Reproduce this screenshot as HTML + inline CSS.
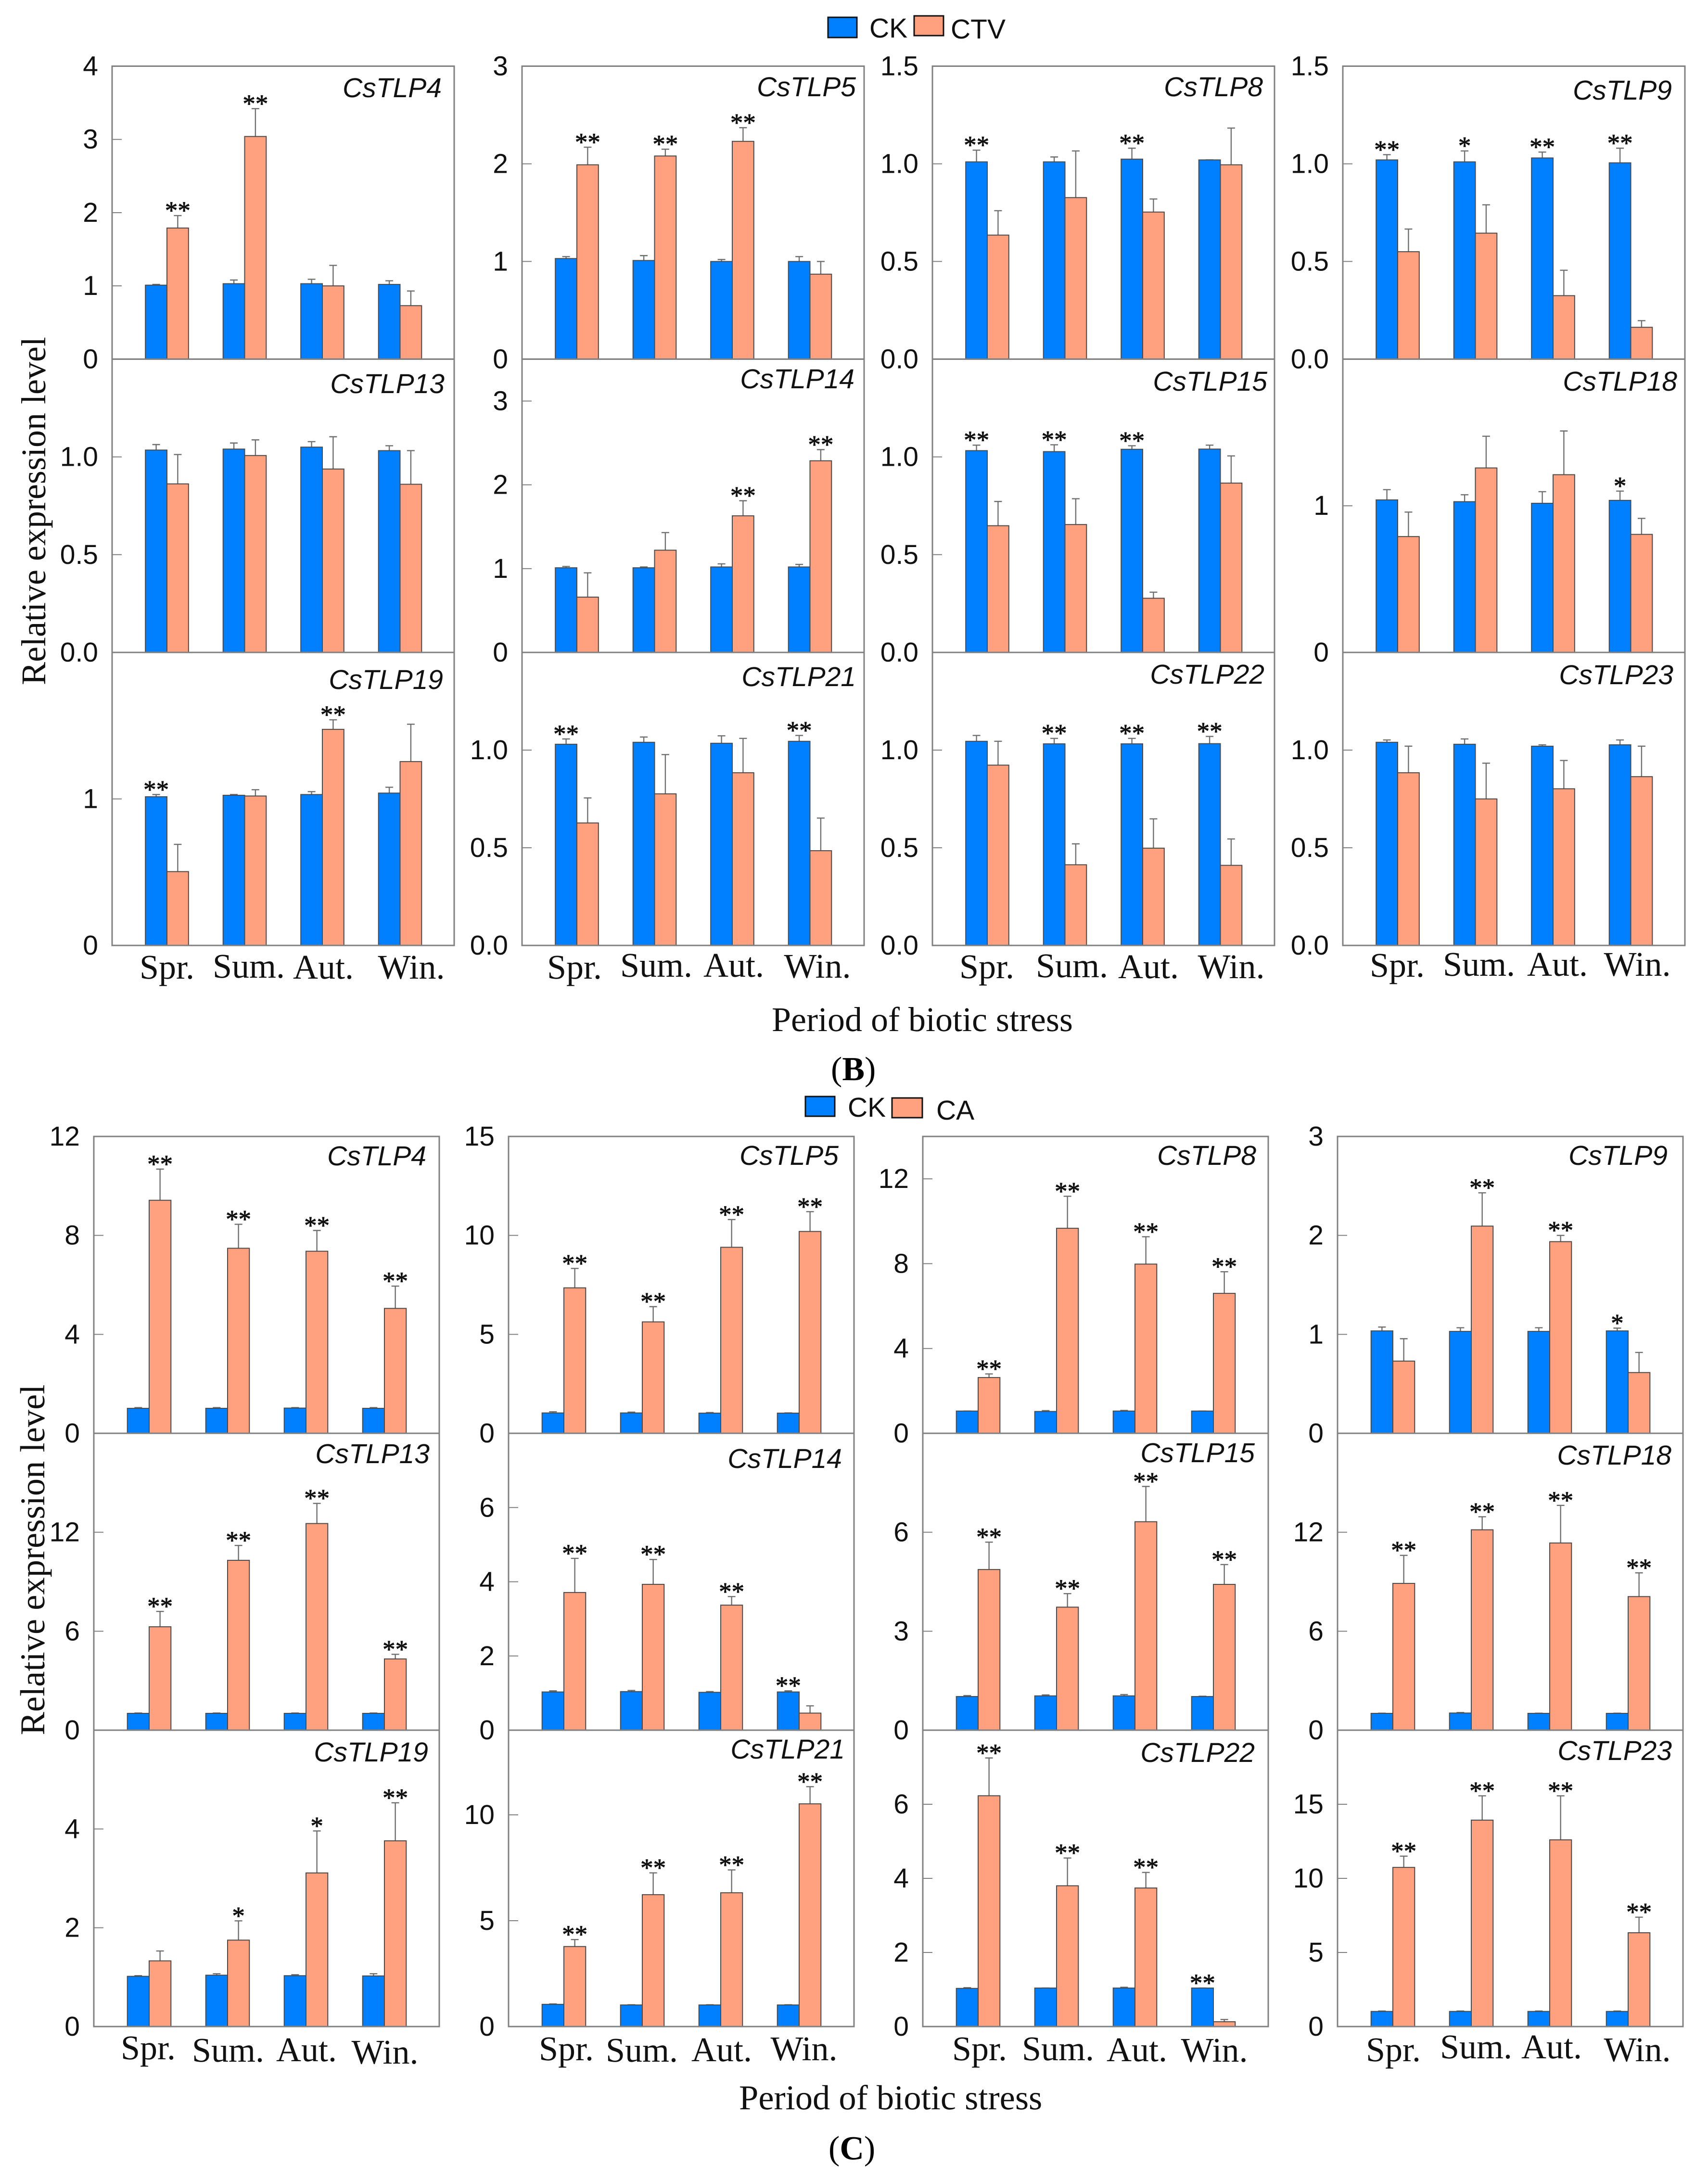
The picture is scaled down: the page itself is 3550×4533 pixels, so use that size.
<!DOCTYPE html>
<html lang="en">
<head>
<meta charset="utf-8">
<title>CsTLP relative expression under biotic stress</title>
<style>
html,body{margin:0;padding:0;background:#fff}
svg{display:block;text-rendering:geometricPrecision}
.sans{font-family:"Liberation Sans",sans-serif}
.serif{font-family:"Liberation Serif",serif}
</style>
</head>
<body>
<svg id="figure" xmlns="http://www.w3.org/2000/svg" width="3550" height="4533" viewBox="0 0 3550 4533">
  <rect x="0" y="0" width="3550" height="4533" fill="#fff"/>

  <g>
    <rect x="1721" y="36" width="60" height="42" fill="#0080ff" stroke="#111" stroke-width="3"/>
    <text class="sans" x="1807" y="78" font-size="57" fill="#111">CK</text>
    <rect x="1900" y="33" width="61" height="41" fill="#ffa07f" stroke="#111" stroke-width="3"/>
    <text class="sans" x="1976" y="80" font-size="57" fill="#111">CTV</text>
  </g>
  <g>
    <rect x="1674" y="2279" width="61" height="41" fill="#0080ff" stroke="#111" stroke-width="3"/>
    <text class="sans" x="1762" y="2321" font-size="57" fill="#111">CK</text>
    <rect x="1854" y="2282" width="63" height="41" fill="#ffa07f" stroke="#111" stroke-width="3"/>
    <text class="sans" x="1946" y="2327" font-size="57" fill="#111">CA</text>
  </g>

  <text class="serif" transform="translate(94 1062) rotate(-90)" text-anchor="middle" font-size="72" fill="#111">Relative expression level</text>
  <text class="serif" x="1604" y="2143" font-size="72" fill="#111">Period of biotic stress</text>
  <text class="serif" x="1727" y="2245" font-size="70" fill="#000">(<tspan font-weight="bold">B</tspan>)</text>

  <text class="serif" transform="translate(92 3242) rotate(-90)" text-anchor="middle" font-size="72.5" fill="#111">Relative expression level</text>
  <text class="serif" x="1536" y="4384" font-size="72.5" fill="#111">Period of biotic stress</text>
  <text class="serif" x="1722" y="4488" font-size="70" fill="#000">(<tspan font-weight="bold">C</tspan>)</text>
</svg>
<script>
/* ---------- data ---------- */
const seasons = ['Spr.', 'Sum.', 'Aut.', 'Win.'];
const genes = ['CsTLP4', 'CsTLP5', 'CsTLP8', 'CsTLP9', 'CsTLP13', 'CsTLP14', 'CsTLP15', 'CsTLP18', 'CsTLP19', 'CsTLP21', 'CsTLP22', 'CsTLP23'];

/* Figure B: CK vs CTV */
const bYMax = [4, 3, 1.5, 1.5, 1.5, 3.5, 1.5, 2, 2, 1.5, 1.5, 1.5];
const bTicks = [
  ['0', '1', '2', '3', '4'], ['0', '1', '2', '3'], ['0.0', '0.5', '1.0', '1.5'], ['0.0', '0.5', '1.0', '1.5'],
  ['0.0', '0.5', '1.0'], ['0', '1', '2', '3'], ['0.0', '0.5', '1.0'], ['0', '1'],
  ['0', '1'], ['0.0', '0.5', '1.0'], ['0.0', '0.5', '1.0'], ['0.0', '0.5', '1.0']
];
const bCk = [
  [1.01, 1.03, 1.03, 1.02], [1.03, 1.01, 1.0, 1.0], [1.01, 1.01, 1.024, 1.02], [1.02, 1.01, 1.03, 1.005],
  [1.035, 1.04, 1.05, 1.032], [1.01, 1.01, 1.02, 1.02], [1.032, 1.027, 1.039, 1.04], [1.04, 1.028, 1.017, 1.037],
  [1.015, 1.025, 1.03, 1.04], [1.03, 1.04, 1.035, 1.045], [1.045, 1.032, 1.032, 1.033], [1.04, 1.03, 1.02, 1.027]
];
const bCkErrTop = [
  [1.02, 1.08, 1.09, 1.07], [1.05, 1.06, 1.02, 1.05], [1.07, 1.035, 1.08, 1.02], [1.047, 1.066, 1.06, 1.08],
  [1.063, 1.071, 1.078, 1.057], [1.026, 1.02, 1.057, 1.05], [1.06, 1.062, 1.057, 1.06], [1.11, 1.075, 1.096, 1.10],
  [1.03, 1.03, 1.05, 1.08], [1.057, 1.067, 1.073, 1.075], [1.075, 1.06, 1.06, 1.07], [1.052, 1.057, 1.027, 1.052]
];
const bCtv = [
  [1.79, 3.04, 1.0, 0.73], [1.99, 2.08, 2.23, 0.87], [0.635, 0.827, 0.753, 0.995], [0.55, 0.645, 0.325, 0.163],
  [0.862, 1.007, 0.938, 0.86], [0.66, 1.22, 1.63, 2.287], [0.648, 0.654, 0.277, 0.866], [0.79, 1.258, 1.212, 0.805],
  [0.504, 1.02, 1.475, 1.255], [0.627, 0.776, 0.884, 0.485], [0.923, 0.413, 0.498, 0.41], [0.884, 0.75, 0.802, 0.864]
];
const bCtvErrTop = [
  [1.96, 3.42, 1.28, 0.93], [2.17, 2.15, 2.37, 1.0], [0.76, 1.066, 0.82, 1.183], [0.666, 0.79, 0.455, 0.197],
  [1.012, 1.087, 1.103, 1.032], [0.95, 1.43, 1.81, 2.42], [0.772, 0.786, 0.308, 1.005], [0.957, 1.474, 1.51, 0.914],
  [0.69, 1.063, 1.54, 1.51], [0.755, 0.977, 1.06, 0.652], [1.045, 0.52, 0.648, 0.545], [1.02, 0.933, 0.947, 1.02]
];
const bStars = [
  [2, 2, 0, 0], [2, 2, 2, 0], [2, 0, 2, 0], [2, 1, 2, 2],
  [0, 0, 0, 0], [0, 0, 2, 2], [2, 2, 2, 0], [0, 0, 0, 1],
  [2, 0, 2, 0], [2, 0, 0, 2], [0, 2, 2, 2], [0, 0, 0, 0]
];

/* Figure C: CK vs CA */
const cYMax = [12, 15, 14, 3, 18, 8, 9, 18, 6, 14, 8, 20];
const cTicks = [
  ['0', '4', '8', '12'], ['0', '5', '10', '15'], ['0', '4', '8', '12'], ['0', '1', '2', '3'],
  ['0', '6', '12'], ['0', '2', '4', '6'], ['0', '3', '6'], ['0', '6', '12'],
  ['0', '2', '4'], ['0', '5', '10'], ['0', '2', '4', '6'], ['0', '5', '10', '15']
];
const cCk = [
  [1.01, 1.01, 1.02, 1.01], [1.03, 1.03, 1.02, 1.02], [1.05, 1.03, 1.05, 1.05], [1.035, 1.03, 1.03, 1.035],
  [1.02, 1.02, 1.02, 1.02], [1.03, 1.04, 1.02, 1.03], [1.02, 1.04, 1.04, 1.02], [1.02, 1.04, 1.02, 1.02],
  [1.017, 1.04, 1.03, 1.025], [1.05, 1.02, 1.02, 1.02], [1.03, 1.04, 1.04, 1.04], [1.02, 1.02, 1.02, 1.02]
];
const cCkErrTop = [
  [1.04, 1.04, 1.04, 1.04], [1.09, 1.07, 1.05, 1.03], [1.05, 1.07, 1.08, 1.05], [1.074, 1.067, 1.067, 1.063],
  [1.04, 1.04, 1.04, 1.04], [1.06, 1.07, 1.04, 1.06], [1.05, 1.07, 1.08, 1.03], [1.03, 1.07, 1.03, 1.03],
  [1.03, 1.07, 1.05, 1.07], [1.07, 1.03, 1.03, 1.03], [1.05, 1.04, 1.06, 1.04], [1.05, 1.05, 1.05, 1.05]
];
const cCa = [
  [9.42, 7.48, 7.36, 5.05], [7.35, 5.63, 9.4, 10.2], [2.63, 9.67, 7.98, 6.6], [0.73, 2.094, 1.937, 0.614],
  [6.27, 10.3, 12.53, 4.32], [3.71, 3.93, 3.37, 0.46], [4.87, 3.73, 6.32, 4.42], [8.9, 12.15, 11.35, 8.1],
  [1.33, 1.75, 3.11, 3.76], [3.78, 6.23, 6.32, 10.52], [6.23, 3.8, 3.74, 0.13], [10.74, 13.93, 12.6, 6.33]
];
const cCaErrTop = [
  [10.68, 8.45, 8.2, 5.95], [8.33, 6.4, 10.8, 11.2], [2.8, 11.18, 9.27, 7.62], [0.956, 2.43, 2.0, 0.817],
  [7.2, 11.2, 13.75, 4.6], [4.63, 4.6, 3.6, 0.656], [5.7, 4.14, 7.39, 5.02], [10.6, 12.94, 13.63, 9.54],
  [1.53, 2.14, 3.96, 4.53], [4.11, 7.26, 7.4, 11.33], [7.25, 4.55, 4.16, 0.19], [11.5, 15.57, 15.57, 7.38]
];
const cStars = [
  [2, 2, 2, 2], [2, 2, 2, 2], [2, 2, 2, 2], [0, 2, 2, 1],
  [2, 2, 2, 2], [2, 2, 2, 2], [2, 2, 2, 2], [2, 2, 2, 2],
  [0, 1, 1, 2], [2, 2, 2, 2], [2, 2, 2, 2], [2, 2, 2, 2]
];

/* ---------- layout (not data) ---------- */
const bLayout = {
  colX: [233, 1085, 1938, 2791], rowY: [137.5, 746.4, 1356, 1965], width: 711,
  groupOffset: [114, 275.5, 437, 598.5], barW: 44.8,
  geneRight: [918, 1779, 2625, 3475, 924, 1776, 2634, 3486, 921, 1779, 2628, 3478],
  geneBase: [202, 200, 200, 207, 817, 807, 812, 812, 1432, 1426, 1421, 1422],
  seasonCenter: [[347, 517, 672, 855], [1194, 1364, 1525, 1699], [2051, 2228, 2387, 2559], [2904, 3074, 3237, 3403]],
  seasonBase: [[2034, 2032, 2034, 2034], [2034, 2030, 2030, 2032], [2033, 2031, 2033, 2033], [2030, 2028, 2028, 2028]]
};
const cLayout = {
  colX: [195, 1057, 1918, 2780], rowY: [2362, 2979, 3596, 4212], width: 718,
  groupOffset: [115, 278, 441, 604], barW: 45.3,
  geneRight: [886, 1743, 2611, 3466, 893, 1750, 2608, 3474, 890, 1756, 2608, 3475],
  geneBase: [2422, 2421, 2421, 2421, 3041, 3051, 3039, 3044, 3661, 3655, 3662, 3658],
  seasonCenter: [[308, 474, 637, 800], [1177, 1334, 1500, 1671], [2036, 2199, 2363, 2524], [2896, 3068, 3225, 3403]],
  seasonBase: [[4280, 4285, 4284, 4289], [4282, 4285, 4284, 4282], [4282, 4282, 4284, 4285], [4284, 4278, 4278, 4284]]
};

const SVG_NS = 'http://www.w3.org/2000/svg';
const figure = document.getElementById('figure');
const AXIS = '#808080', BAR_EDGE = '#4a4a4a', ERR = '#6f6f6f', TEXT = '#111';
const CK_FILL = '#0080ff', TREAT_FILL = '#ffa07f';

function shape(parent, tag, attrs) {
  const node = document.createElementNS(SVG_NS, tag);
  for (const k in attrs) node.setAttribute(k, attrs[k]);
  parent.appendChild(node);
  return node;
}

function yScale(value, yMax, top, bottom) {
  return bottom - (value / yMax) * (bottom - top);
}

function drawErr(parent, cx, yBar, yTop) {
  const stem = shape(parent, 'line', { x1: cx, x2: cx, y1: yBar, y2: yTop, stroke: ERR, 'stroke-width': 2.4 });
  
  
  const cap = shape(parent, 'line', { x1: cx - 8, x2: cx + 8, y1: yTop, y2: yTop, stroke: ERR, 'stroke-width': 2.4 });
  
  
}

function drawFigure(prefix, layout, yMaxes, ticks, ck, ckErr, treat, treatErr, stars) {
  genes.forEach(function (gene, i) {
    const col = i % 4, row = Math.floor(i / 4);
    const x0 = layout.colX[col], x1 = x0 + layout.width;
    const top = layout.rowY[row], bottom = layout.rowY[row + 1];
    const yMax = yMaxes[i];
    const y = function (v) { return yScale(v, yMax, top, bottom); };

    const panel = shape(figure, 'g', {});
    
    

    /* bars and error bars */
    seasons.forEach(function (season, s) {
      const mid = x0 + layout.groupOffset[s], w = layout.barW;
      drawErr(panel, mid - w / 2, y(ck[i][s]), y(ckErr[i][s]));
      drawErr(panel, mid + w / 2, y(treat[i][s]), y(treatErr[i][s]));

      const ckBar = shape(panel, 'rect', { x: mid - w, y: y(ck[i][s]), width: w, height: bottom - y(ck[i][s]), fill: CK_FILL, stroke: BAR_EDGE, 'stroke-width': 2 });
      
      

      const treatBar = shape(panel, 'rect', { x: mid, y: y(treat[i][s]), width: w, height: bottom - y(treat[i][s]), fill: TREAT_FILL, stroke: BAR_EDGE, 'stroke-width': 2 });
      
      

      /* significance markers sit above the taller error bar */
      const n = stars[i][s];
      if (n > 0) {
        const onCk = ckErr[i][s] >= treatErr[i][s];
        const cx = onCk ? mid - w / 2 : mid + w / 2;
        const top2 = y(onCk ? ckErr[i][s] : treatErr[i][s]);
        const star = shape(panel, 'text', { x: cx, y: top2 + 7, 'text-anchor': 'middle', 'font-size': 53, fill: TEXT, stroke: TEXT, 'stroke-width': 0.9, 'font-family': '"Liberation Serif", serif' });
        star.textContent = n === 2 ? '**' : '*';
        
        
      }
    });

    /* frame */
    const frame = shape(panel, 'rect', { x: x0, y: top, width: x1 - x0, height: bottom - top, fill: 'none', stroke: AXIS, 'stroke-width': 3 });
    
    

    /* y ticks */
    ticks[i].forEach(function (label) {
      const ty = y(parseFloat(label));
      const mark = shape(panel, 'line', { x1: x0, x2: x0 + 20, y1: ty, y2: ty, stroke: AXIS, 'stroke-width': 2 });
      
      
      const txt = shape(panel, 'text', { x: x0 - 29, y: ty + 19, 'text-anchor': 'end', 'font-size': 57, fill: TEXT, 'font-family': '"Liberation Sans", sans-serif' });
      txt.textContent = label;
      
      
    });

    /* gene title */
    const title = shape(panel, 'text', { x: layout.geneRight[i], y: layout.geneBase[i], 'text-anchor': 'end', 'font-size': 57, 'font-style': 'italic', fill: TEXT, 'font-family': '"Liberation Sans", sans-serif' });
    title.textContent = gene;
    
    

    /* x labels on the bottom row */
    if (row === 2) {
      seasons.forEach(function (season, s) {
        const lab = shape(panel, 'text', { x: layout.seasonCenter[col][s], y: layout.seasonBase[col][s], 'text-anchor': 'middle', 'font-size': 72, fill: TEXT, 'font-family': '"Liberation Serif", serif' });
        lab.textContent = season;
        
        
      });
    }
  });
}

drawFigure('b', bLayout, bYMax, bTicks, bCk, bCkErrTop, bCtv, bCtvErrTop, bStars);
drawFigure('c', cLayout, cYMax, cTicks, cCk, cCkErrTop, cCa, cCaErrTop, cStars);
</script>
</body>
</html>
